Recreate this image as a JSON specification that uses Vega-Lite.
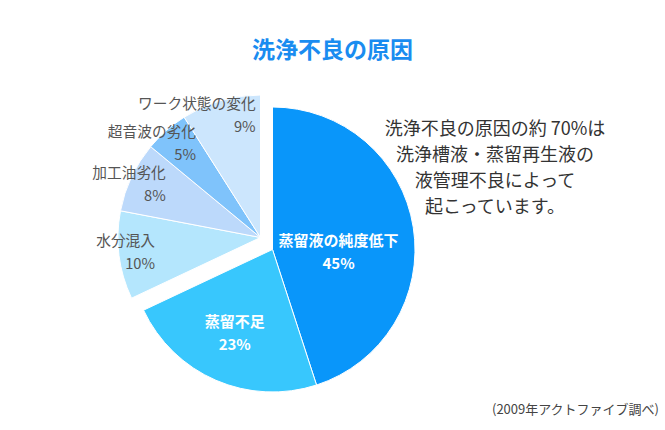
{
  "$schema": "https://vega.github.io/schema/vega-lite/v6.json",
  "width": 665,
  "height": 430,
  "autosize": {"type": "fit", "contains": "padding"},
  "padding": 0.5,
  "background": "white",
  "config": {"view": {"stroke": "#c8c8c8", "strokeWidth": 1}, "font": "Noto Sans CJK JP"},
  "title": {"text": "洗浄不良の原因", "color": "#1a8cf0", "fontSize": 23, "fontWeight": "bold", "anchor": "middle", "offset": -62, "font": "Noto Sans CJK JP"},
  "layer": [
    {
      "data": {"values": [
        {"cause": "蒸留液の純度低下", "pct": 45, "order": 1},
        {"cause": "蒸留不足", "pct": 23, "order": 2},
        {"cause": "水分混入", "pct": 10, "order": 3},
        {"cause": "加工油劣化", "pct": 8, "order": 4},
        {"cause": "超音波の劣化", "pct": 5, "order": 5},
        {"cause": "ワーク状態の変化", "pct": 9, "order": 6}
      ]},
      "transform": [
        {"stack": "pct", "groupby": [], "sort": [{"field": "order", "order": "ascending"}], "as": ["t0", "t1"]},
        {"calculate": "(datum.t0 + datum.t1) / 2", "as": "mid"},
        {"calculate": "datum.cause + '\\n' + datum.pct + '%'", "as": "label"}
      ],
      "layer": [
        {
          "transform": [{"filter": "datum.order <= 2"}],
          "mark": {"type": "arc", "outerRadius": 142.5, "stroke": "white", "strokeWidth": 1, "xOffset": -60, "yOffset": 34.5},
          "encoding": {
            "theta": {"field": "t0", "type": "quantitative", "stack": null, "scale": {"domain": [0, 100]}},
            "theta2": {"field": "t1"},
            "color": {"field": "cause", "type": "nominal", "legend": null,
              "scale": {"domain": ["蒸留液の純度低下", "蒸留不足", "水分混入", "加工油劣化", "超音波の劣化", "ワーク状態の変化"],
                        "range": ["#0996fa", "#38c7fd", "#b4e6fd", "#bcd9fb", "#7fc3fb", "#cce6fd"]}}
          }
        },
        {
          "transform": [{"filter": "datum.order > 2"}],
          "mark": {"type": "arc", "outerRadius": 142.5, "stroke": "white", "strokeWidth": 1, "xOffset": -72, "yOffset": 22.5},
          "encoding": {
            "theta": {"field": "t0", "type": "quantitative", "stack": null, "scale": {"domain": [0, 100]}},
            "theta2": {"field": "t1"},
            "color": {"field": "cause", "type": "nominal", "legend": null}
          }
        },
        {
          "transform": [{"filter": "datum.order <= 2"}],
          "mark": {"type": "text", "radius": 75, "dx": -68, "dy": 38, "fill": "white", "fontWeight": "bold", "fontSize": 15, "lineBreak": "\n", "lineHeight": 23, "align": "center", "baseline": "middle"},
          "encoding": {
            "theta": {"field": "mid", "type": "quantitative", "stack": null, "scale": {"domain": [0, 100]}},
            "text": {"field": "label", "type": "nominal"}
          }
        },
        {
          "transform": [{"filter": "datum.order > 2 && datum.order < 6"}],
          "mark": {"type": "text", "radius": 124, "dx": -54.5, "dy": 11.5, "fill": "#555555", "fontSize": 14.7, "lineBreak": "\n", "lineHeight": 23, "align": "right", "baseline": "middle"},
          "encoding": {
            "theta": {"field": "mid", "type": "quantitative", "stack": null, "scale": {"domain": [0, 100]}},
            "text": {"field": "label", "type": "nominal"}
          }
        },
        {
          "transform": [{"filter": "datum.order == 6"}],
          "mark": {"type": "text", "radius": 125, "dx": -42, "dy": 10.5, "fill": "#555555", "fontSize": 14.7, "lineBreak": "\n", "lineHeight": 23, "align": "right", "baseline": "middle"},
          "encoding": {
            "theta": {"field": "mid", "type": "quantitative", "stack": null, "scale": {"domain": [0, 100]}},
            "text": {"field": "label", "type": "nominal"}
          }
        }
      ]
    },
    {
      "data": {"values": [{"note": "洗浄不良の原因の約 70%は\n洗浄槽液・蒸留再生液の\n液管理不良によって\n起こっています。"}]},
      "mark": {"type": "text", "dx": 162.5, "dy": -85, "fill": "#333333", "fontSize": 18, "lineBreak": "\n", "lineHeight": 26, "align": "center", "baseline": "middle"},
      "encoding": {"text": {"field": "note", "type": "nominal"}}
    },
    {
      "data": {"values": [{"source": "(2009年アクトファイブ調べ)"}]},
      "mark": {"type": "text", "dx": 326.5, "dy": 195, "fill": "#444444", "fontSize": 13, "align": "right", "baseline": "middle"},
      "encoding": {"text": {"field": "source", "type": "nominal"}}
    }
  ]
}
